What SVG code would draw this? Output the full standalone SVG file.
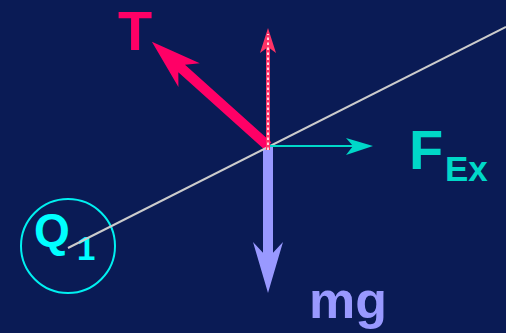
<svg xmlns="http://www.w3.org/2000/svg" width="506" height="333" viewBox="0 0 506 333">
<style>
.lbl{font-family:"Liberation Sans",Arial,sans-serif;font-weight:bold}
</style>
<rect width="506" height="333" fill="#0a1b55"/>
<g id="charge">
<circle cx="68" cy="246" r="47" fill="none" stroke="#00f0f0" stroke-width="2"/>
<text class="lbl" x="34" y="246" font-size="46" fill="#00ffff">Q</text>
<text class="lbl" x="77" y="260" font-size="33" fill="#00ffff">1</text>
</g>
<g id="connectors">
<path id="mg-arrow" d="M263,146 H273 V252.7 L283,242 L268,293 L253,242 L263,252.7 Z" fill="#9999ff"/>
<path id="t-arrow" transform="translate(268,146) rotate(-138.1)" d="M0,-5 L116,-5 L106,-16 L156,0 L106,16 L116,5 L0,5 Z" fill="#ff0066"/>
<line x1="68" y1="248" x2="506" y2="27" stroke="#cccccc" stroke-width="2"/>
<g id="fex-arrow">
<line x1="268" y1="146" x2="355" y2="146" stroke="#00d8c8" stroke-width="2"/>
<path d="M373,146 L346,138 L353,146 L346,155 Z" fill="#00d8c8"/>
</g>
<g id="dotted-arrow">
<path d="M268,28 L276,53 L268,47 L260,53 Z" fill="#ff3366"/>
<line x1="268" y1="150" x2="268" y2="40" stroke="#ff3366" stroke-width="4"/>
<line x1="268" y1="150" x2="268" y2="34" stroke="#ffffff" stroke-width="1.6" stroke-dasharray="2.5 2.5"/>
</g>
</g>
<g id="labels">
<text class="lbl" x="118" y="50" font-size="56" fill="#ff0066">T</text>
<text class="lbl" x="409" y="169" font-size="56" fill="#00d8c8">F</text>
<text class="lbl" x="445" y="181" font-size="35" fill="#00d8c8">Ex</text>
<text class="lbl" x="309" y="318" font-size="52" fill="#9999ff">mg</text>
</g>
</svg>
